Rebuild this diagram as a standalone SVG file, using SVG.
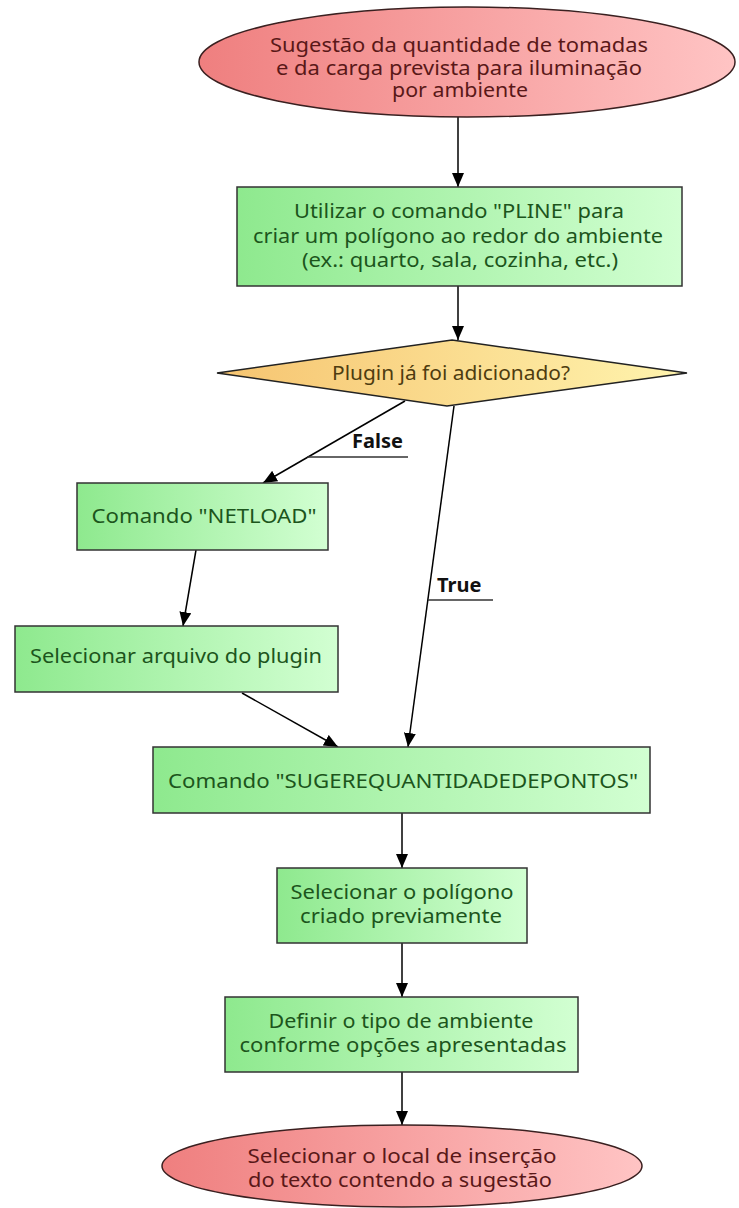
<svg xmlns="http://www.w3.org/2000/svg" width="739" height="1208" viewBox="0 0 739 1208">
  <defs>
    <linearGradient id="gPink" x1="0" y1="0" x2="1" y2="0">
      <stop offset="0" stop-color="#ef7f7f"/>
      <stop offset="1" stop-color="#ffc4c4"/>
    </linearGradient>
    <linearGradient id="gGreen" x1="0" y1="0" x2="1" y2="0">
      <stop offset="0" stop-color="#8ee98e"/>
      <stop offset="1" stop-color="#d2ffd2"/>
    </linearGradient>
    <linearGradient id="gYellow" x1="0" y1="0" x2="1" y2="0">
      <stop offset="0" stop-color="#f6c470"/>
      <stop offset="1" stop-color="#fff4ae"/>
    </linearGradient>
    <marker id="arrow" markerUnits="userSpaceOnUse" markerWidth="14" markerHeight="12" refX="14" refY="6" orient="auto">
      <path d="M0,0 L14,6 L0,12 z" fill="#000"/>
    </marker>
    <style>
      .term { fill: url(#gPink); stroke: #3a2020; stroke-width: 1.5; }
      .proc { fill: url(#gGreen); stroke: #333; stroke-width: 1.5; }
      .dec { fill: url(#gYellow); stroke: #222; stroke-width: 1.5; }
      text { font-family: "Noto Sans", "Open Sans", "DejaVu Sans", sans-serif; font-size: 20px; text-anchor: middle; }
      .tterm { fill: #5a1818; }
      .tproc { fill: #1c551c; }
      .tdec { fill: #4e3c10; }
      .edge { stroke: #000; stroke-width: 1.5; fill: none; }
      .edgeArrow { marker-end: url(#arrow); }
      .lbl { fill: #111; font-weight: bold; font-size: 20px; text-anchor: start; }
      .ul { stroke: #333; stroke-width: 1.5; }
    </style>
  </defs>

  <g id="connectors">
    <line class="edge edgeArrow" x1="458" y1="117" x2="458" y2="187"/>
    <line class="edge edgeArrow" x1="458" y1="286" x2="458" y2="340"/>
    <line class="edge edgeArrow" x1="405" y1="401" x2="263" y2="483"/>
    <line class="ul" x1="307" y1="457" x2="408" y2="457"/>
    <text class="lbl" x="352" y="448">False</text>
    <line class="edge edgeArrow" x1="454" y1="406" x2="408" y2="747"/>
    <line class="ul" x1="428" y1="600" x2="493" y2="600"/>
    <text class="lbl" x="437" y="592">True</text>
    <line class="edge edgeArrow" x1="196" y1="550" x2="183" y2="626"/>
    <line class="edge edgeArrow" x1="242" y1="693" x2="338" y2="747"/>
    <line class="edge edgeArrow" x1="402" y1="813" x2="402" y2="868"/>
    <line class="edge edgeArrow" x1="402" y1="943" x2="402" y2="997"/>
    <line class="edge edgeArrow" x1="402" y1="1072" x2="402" y2="1125"/>
  </g>

  <g id="start">
    <ellipse class="term" cx="467" cy="62" rx="268" ry="55"/>
    <text class="tterm" x="459" y="52" textLength="378" lengthAdjust="spacingAndGlyphs">Sugestão da quantidade de tomadas</text>
    <text class="tterm" x="459" y="75" textLength="366" lengthAdjust="spacingAndGlyphs">e da carga prevista para iluminação</text>
    <text class="tterm" x="460" y="97" textLength="136" lengthAdjust="spacingAndGlyphs">por ambiente</text>
  </g>

  <g id="pline">
    <rect class="proc" x="237" y="187" width="445" height="99"/>
    <text class="tproc" x="459" y="218" textLength="330" lengthAdjust="spacingAndGlyphs">Utilizar o comando "PLINE" para</text>
    <text class="tproc" x="458" y="243" textLength="410" lengthAdjust="spacingAndGlyphs">criar um polígono ao redor do ambiente</text>
    <text class="tproc" x="460" y="267" textLength="316" lengthAdjust="spacingAndGlyphs">(ex.: quarto, sala, cozinha, etc.)</text>
  </g>

  <g id="decision">
    <polygon class="dec" points="452,340 687,373 447,406 217,373"/>
    <text class="tdec" x="451" y="380" textLength="238" lengthAdjust="spacingAndGlyphs">Plugin já foi adicionado?</text>
  </g>

  <g id="netload">
    <rect class="proc" x="77" y="483" width="251" height="67"/>
    <text class="tproc" x="204" y="523" textLength="225" lengthAdjust="spacingAndGlyphs">Comando "NETLOAD"</text>
  </g>

  <g id="arquivo">
    <rect class="proc" x="15" y="626" width="323" height="66"/>
    <text class="tproc" x="176" y="663" textLength="292" lengthAdjust="spacingAndGlyphs">Selecionar arquivo do plugin</text>
  </g>

  <g id="sugere">
    <rect class="proc" x="153" y="747" width="497" height="66"/>
    <text class="tproc" x="403" y="788" textLength="470" lengthAdjust="spacingAndGlyphs">Comando "SUGEREQUANTIDADEDEPONTOS"</text>
  </g>

  <g id="poligono">
    <rect class="proc" x="277" y="868" width="250" height="75"/>
    <text class="tproc" x="402" y="899" textLength="223" lengthAdjust="spacingAndGlyphs">Selecionar o polígono</text>
    <text class="tproc" x="401" y="923" textLength="202" lengthAdjust="spacingAndGlyphs">criado previamente</text>
  </g>

  <g id="tipo">
    <rect class="proc" x="225" y="997" width="353" height="75"/>
    <text class="tproc" x="401" y="1028" textLength="265" lengthAdjust="spacingAndGlyphs">Definir o tipo de ambiente</text>
    <text class="tproc" x="403" y="1052" textLength="327" lengthAdjust="spacingAndGlyphs">conforme opções apresentadas</text>
  </g>

  <g id="end">
    <ellipse class="term" cx="402" cy="1166" rx="240" ry="41"/>
    <text class="tterm" x="402" y="1163" textLength="309" lengthAdjust="spacingAndGlyphs">Selecionar o local de inserção</text>
    <text class="tterm" x="400" y="1187" textLength="304" lengthAdjust="spacingAndGlyphs">do texto contendo a sugestão</text>
  </g>
</svg>
